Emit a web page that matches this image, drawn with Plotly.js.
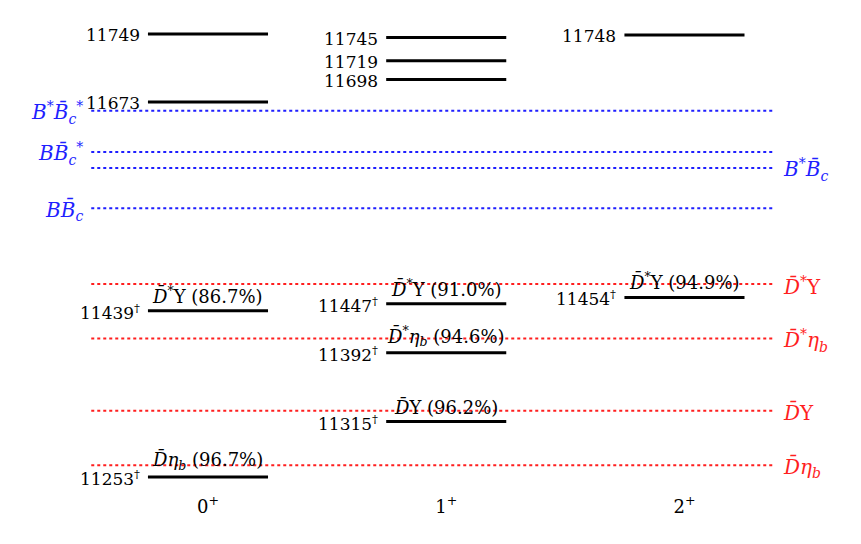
<!DOCTYPE html>
<html>
<head>
<meta charset="utf-8">
<script src="https://cdn.plot.ly/plotly-3.0.1.min.js"></script>
<style>html,body{margin:0;padding:0;background:#fff;}#chart{width:861px;height:544px;}</style>
</head>
<body>
<div id="chart"></div>
<script>
// J^P columns
const jpLabels = ['0<sup>+</sup>', '1<sup>+</sup>', '2<sup>+</sup>'];
const jpIndex = [0, 1, 2];

// Levels (MeV)
const levelJ      = [0, 0, 0, 0, 1, 1, 1, 1, 1, 1, 2, 2];
const levelMass   = [11749, 11673, 11439, 11253, 11745, 11719, 11698, 11447, 11392, 11315, 11748, 11454];
const levelDagger = [false, false, true, true, false, false, false, true, true, true, false, true];
const levelChannel = ['', '', '<i>D̄</i><sup>*</sup>Υ', '<i>D̄η<sub>b</sub></i>', '', '', '', '<i>D̄</i><sup>*</sup>Υ', '<i>D̄</i><sup>*</sup><i>η<sub>b</sub></i>', '<i>D̄</i>Υ', '', '<i>D̄</i><sup>*</sup>Υ'];
const levelFrac   = [null, null, 86.7, 96.7, null, null, null, 91.0, 94.6, 96.2, null, 94.9];

// Thresholds (MeV)
const thrName  = ['<i>B</i><sup>*</sup><i>B̄<sub>c</sub></i><sup>*</sup>', '<i>BB̄<sub>c</sub></i><sup>*</sup>', '<i>B</i><sup>*</sup><i>B̄<sub>c</sub></i>', '<i>BB̄<sub>c</sub></i>',
                  '<i>D̄</i><sup>*</sup>Υ', '<i>D̄</i><sup>*</sup><i>η<sub>b</sub></i>', '<i>D̄</i>Υ', '<i>D̄η<sub>b</sub></i>'];
const thrMass  = [11663, 11617, 11599, 11554, 11469, 11408, 11327, 11266];
const thrGroup = ['B', 'B', 'B', 'B', 'D', 'D', 'D', 'D'];
const thrSide  = ['left', 'left', 'right', 'left', 'right', 'right', 'right', 'right'];

const halfW = 0.252;
const thrX0 = -0.49, thrX1 = 2.37;
const colors = {B: '#1f1fff', D: '#ff1f1f'};
const FONT = 'DejaVu Serif';

const traces = [];
// threshold lines
['B', 'D'].forEach(g => {
  const xs = [], ys = [];
  thrMass.forEach((m, i) => {
    if (thrGroup[i] !== g) return;
    xs.push(thrX0, thrX1, null); ys.push(m, m, null);
  });
  traces.push({type: 'scatter', mode: 'lines', x: xs, y: ys, hoverinfo: 'skip',
    line: {color: colors[g], width: 2, dash: 'dot'}, showlegend: false});
});
// level bars
{
  const xs = [], ys = [];
  levelMass.forEach((m, i) => {
    const j = levelJ[i];
    xs.push(j - halfW, j + halfW, null); ys.push(m, m, null);
  });
  traces.push({type: 'scatter', mode: 'lines', x: xs, y: ys, hoverinfo: 'skip',
    line: {color: '#000', width: 3}, showlegend: false});
}

const ann = [];
levelMass.forEach((m, i) => {
  const j = levelJ[i];
  ann.push({x: j - halfW, y: m, xref: 'x', yref: 'y', text: m + (levelDagger[i] ? '<sup>†</sup>' : ''),
    showarrow: false, xanchor: 'right', yanchor: 'middle', xshift: -6, yshift: -1,
    font: {family: FONT, size: 17, color: '#000'}});
  if (levelChannel[i]) {
    ann.push({x: j, y: m, xref: 'x', yref: 'y', text: levelChannel[i] + ' (' + levelFrac[i].toFixed(1) + '%)',
      showarrow: false, xanchor: 'center', yanchor: 'bottom', yshift: 2,
      font: {family: FONT, size: 18, color: '#000'}});
  }
});
thrMass.forEach((m, i) => {
  const left = thrSide[i] === 'left';
  ann.push({x: left ? thrX0 : thrX1, y: m, xref: 'x', yref: 'y', text: thrName[i],
    showarrow: false, xanchor: left ? 'right' : 'left', yanchor: 'middle', xshift: left ? -6 : 8, yshift: -2,
    font: {family: FONT, size: 20, color: colors[thrGroup[i]]}});
});

const layout = {
  width: 861, height: 544,
  margin: {l: 0, r: 0, t: 0, b: 50},
  paper_bgcolor: '#fff', plot_bgcolor: '#fff',
  font: {family: FONT},
  xaxis: {range: [-0.873, 2.741], showgrid: false, zeroline: false, showline: false, ticks: '',
    tickvals: jpIndex, ticktext: jpLabels, tickfont: {family: FONT, size: 18, color: '#000'}, fixedrange: true},
  yaxis: {range: [11233.9, 11787.1], showgrid: false, zeroline: false, showline: false, ticks: '',
    showticklabels: false, fixedrange: true},
  annotations: ann,
  showlegend: false
};
Plotly.newPlot('chart', traces, layout, {staticPlot: true, displayModeBar: false});
</script>
</body>
</html>
